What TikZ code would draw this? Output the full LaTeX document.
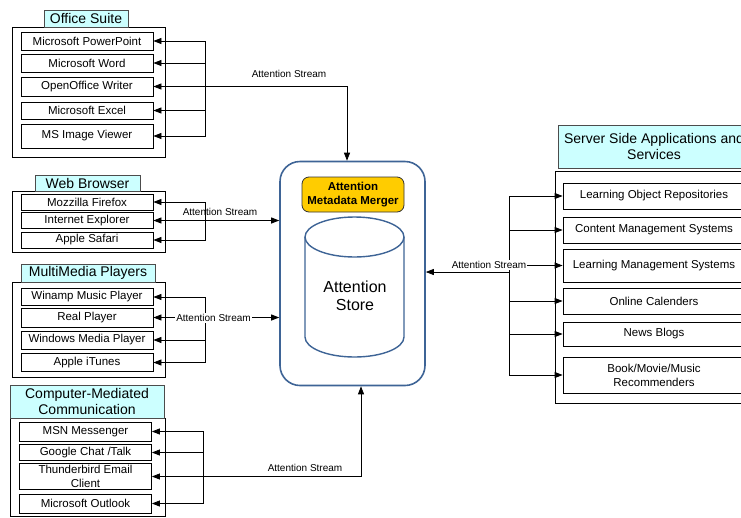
\documentclass[tikz,border=0pt]{standalone}
\usepackage{fontspec}
\setmainfont{Liberation Sans}
\usetikzlibrary{arrows.meta}
\definecolor{hubblue}{RGB}{62,100,150}
\definecolor{mergeryellow}{RGB}{255,204,0}
\definecolor{headcyan}{RGB}{204,255,255}
\begin{document}
\begin{tikzpicture}[x=1pt,y=-1pt,
  item/.style={draw,line width=0.8pt,minimum width=132,inner sep=1pt,align=center,font=\fontsize{11.5}{14}\selectfont},
  grp/.style={draw,line width=0.8pt,fill=white},
  head/.style={draw=black!70,line width=0.8pt,fill=headcyan,inner sep=1pt,align=center,font=\fontsize{14}{15.5}\selectfont},
  stream/.style={line width=0.8pt,-{Triangle[length=8pt,width=6pt]}},
  lbl/.style={font=\fontsize{10}{12}\selectfont,inner sep=1pt}]
  \useasboundingbox (0,0) rectangle (741,517);
  \node[draw=hubblue,line width=1.6pt,rounded corners=20pt,fill=white,minimum width=145,minimum height=224] (hub) at (352.5,273.5) {};
  \node[draw=black!80,line width=0.8pt,fill=mergeryellow,rounded corners=7pt,minimum width=102,minimum height=35,align=center,
        font=\bfseries\fontsize{11.5}{14}\selectfont] (merger) at (353,194.5) {Attention\\Metadata Merger};
  \draw[hubblue,line width=1.4pt] (305,237) -- (305,337) arc[start angle=180,end angle=0,x radius=49.5,y radius=20] -- (404,237);
  \draw[hubblue,line width=1.4pt] (354.5,237) ellipse[x radius=49.5,y radius=20];
  \node[font=\fontsize{16}{18}\selectfont,align=center] (store) at (355,296) {Attention\\Store};

  \node[grp,minimum width=153,minimum height=130] (office) at (88.5,92) {};
  \node[head,minimum width=84,minimum height=17] (officehd) at (86,18.5) {Office Suite};
  \coordinate (obus) at (205,86.5);
  \foreach \n/\y/\h/\t in {1/41/18/Microsoft PowerPoint,2/63/18/Microsoft Word,3/86.5/19/OpenOffice Writer,
                           4/110.5/17/Microsoft Excel,5/136/24/MS Image Viewer}{
    \node[item,minimum height=\h] (of\n) at (87,\y) {\t};
    \draw[stream] (obus) |- (of\n.east);
  }
  \draw[stream] (obus) -| ([xshift=-5.5]hub.north);
  \node[lbl] (olbl) at (289,74) {Attention Stream};

  \node[grp,minimum width=153,minimum height=61] (web) at (88.5,221.5) {};
  \node[head,minimum width=105,minimum height=16] (webhd) at (87.5,183) {Web Browser};
  \coordinate (wbus) at (205,220.5);
  \foreach \n/\y/\t in {1/202/Mozzilla Firefox,2/220.5/Internet Explorer,3/240/Apple Safari}{
    \node[item,minimum height=16] (wb\n) at (87,\y) {\t};
    \draw[stream] (wbus) |- (wb\n.east);
  }
  \draw[stream] (wbus) -- (wbus -| hub.west);
  \node[lbl] (wlbl) at (220,212) {Attention Stream};

  \node[grp,minimum width=153,minimum height=95] (media) at (88.5,329.5) {};
  \node[head,minimum width=134,minimum height=18] (mediahd) at (88,273) {MultiMedia Players};
  \coordinate (mbus) at (205,317.5);
  \foreach \n/\y/\h/\t in {1/297/17/Winamp Music Player,2/317.5/19/Real Player,3/340/18/Windows Media Player,4/362.5/18/Apple iTunes}{
    \node[item,minimum height=\h] (mp\n) at (87,\y) {\t};
    \draw[stream] (mbus) |- (mp\n.east);
  }
  \draw[stream] (mbus) -- (mbus -| hub.west);
  \node[lbl,fill=white] (mlbl) at (213.5,318) {Attention Stream};

  \node[grp,minimum width=155,minimum height=98] (cmc) at (87.5,467) {};
  \node[head,minimum width=154,minimum height=33] (cmchd) at (87,401.5) {Computer-Mediated\\Communication};
  \coordinate (cbus) at (203,476.5);
  \foreach \n/\y/\h/\t in {1/431.5/19/MSN Messenger,2/452.5/16/{Google Chat /Talk},3/476.5/26/{Thunderbird Email\\Client},4/503.5/19/Microsoft Outlook}{
    \node[item,minimum height=\h] (cm\n) at (85.5,\y) {\t};
    \draw[stream] (cbus) |- (cm\n.east);
  }
  \draw[stream] (cbus) -| ([xshift=8.5]hub.south);
  \node[lbl] (clbl) at (305,468) {Attention Stream};

  \node[grp,minimum width=200,minimum height=232] (server) at (655,287) {};
  \node[head,minimum width=192,minimum height=43] (serverhd) at (654,146.5) {Server Side Applications and\\Services};
  \coordinate (sbus) at (509,272);
  \foreach \n/\y/\h/\t in {1/196/26/Learning Object Repositories,2/230/26/Content Management Systems,3/265.5/33/Learning Management Systems,
                           4/301/26/Online Calenders,5/334/24/News Blogs,6/375/36/{Book/Movie/Music\\Recommenders}}{
    \node[item,minimum width=182,minimum height=\h] (sv\n) at (654,\y) {\t};
    \draw[stream] (sbus) |- (sv\n.west);
  }
  \draw[stream] (sbus) -- (sbus -| hub.east);
  \node[lbl,fill=white] (slbl) at (489,265) {Attention Stream};
\end{tikzpicture}
\end{document}
